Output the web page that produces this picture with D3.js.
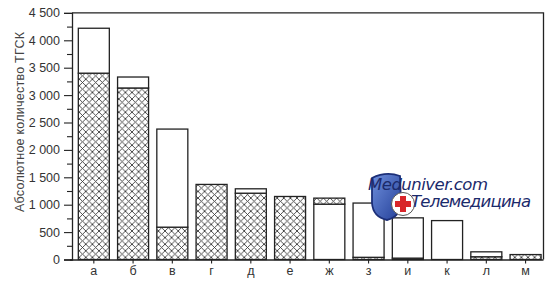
<!DOCTYPE html>
<html>
<head>
<meta charset="utf-8">
<script src="https://cdn.jsdelivr.net/npm/d3@7"></script>
<style>
    body { margin: 0; background: #fff; }
    svg { display: block; font-family: "Liberation Sans", Arial, sans-serif; }
</style>
</head>
<body>
<div class="svg-container"></div>
<script>
// Values.
const categories = ["а", "б", "в", "г", "д", "е", "ж", "з", "и", "к", "л", "м"];
const hatchedLow = [3400, 3130, 590, 1370, 1210, 1150, 0, 40, 25, 0, 50, 90];
const whitePart = [820, 200, 1790, 0, 80, 0, 1010, 990, 735, 710, 90, 0];
const hatchedHigh = [0, 0, 0, 0, 0, 0, 110, 0, 0, 0, 0, 0];
const yMajorTicks = [0, 500, 1000, 1500, 2000, 2500, 3000, 3500, 4000, 4500];
const yMinorTicks = [250, 750, 1250, 1750, 2250, 2750, 3250, 3750, 4250];
const yTitle = "Абсолютное количество ТГСК";

const WIDTH = 550;
const HEIGHT = 284;
const FRAME = { left: 72, right: 543.5, top: 12.9, bottom: 259.5 };
const INK = "#222";
const HATCH = 6.6;

const rows = categories.map((c, i) => ({
    cat: c,
    hatchLow: hatchedLow[i],
    white: whitePart[i],
    hatchHigh: hatchedHigh[i],
}));

const x = d3
    .scaleBand()
    .domain(categories)
    .range([74.2, 545.2])
    .paddingInner(0.21)
    .paddingOuter(0.105);

const y = d3.scaleLinear().domain([0, 4500]).range([FRAME.bottom, FRAME.top]);

const svg = d3
    .select(".svg-container")
    .append("svg")
    .attr("width", WIDTH)
    .attr("height", HEIGHT);

// Cross-hatch fill.
const pattern = svg
    .append("defs")
    .append("pattern")
    .attr("id", "cross")
    .attr("patternUnits", "userSpaceOnUse")
    .attr("width", HATCH)
    .attr("height", HATCH);
pattern.append("rect").attr("width", HATCH).attr("height", HATCH).attr("fill", "#fff");
pattern
    .append("path")
    .attr(
        "d",
        `M0,0L${HATCH},${HATCH}M${HATCH},0L0,${HATCH}` +
            `M-1,${HATCH - 1}L1,${HATCH + 1}M${HATCH - 1},-1L${HATCH + 1},1` +
            `M-1,1L1,-1M${HATCH - 1},${HATCH + 1}L${HATCH + 1},${HATCH - 1}`
    )
    .attr("stroke", "#3a3a3a")
    .attr("stroke-width", 0.9);

// Stacked bars.
const stack = d3.stack().keys(["hatchLow", "white", "hatchHigh"]);
const series = stack(rows);

svg.append("g")
    .classed("bars", true)
    .selectAll("g")
    .data(series)
    .join("g")
    .attr("fill", (s) => (s.key === "white" ? "#fff" : "url(#cross)"))
    .selectAll("rect")
    .data((s) => s.filter((d) => d[1] - d[0] > 0))
    .join("rect")
    .attr("x", (d) => x(d.data.cat))
    .attr("width", x.bandwidth())
    .attr("y", (d) => y(d[1]))
    .attr("height", (d) => y(d[0]) - y(d[1]))
    .attr("stroke", INK)
    .attr("stroke-width", 1.3);

// Frame lines (top and right).
svg.append("path")
    .attr("d", `M${FRAME.left},${FRAME.top}H${FRAME.right}V${FRAME.bottom}`)
    .attr("fill", "none")
    .attr("stroke", INK)
    .attr("stroke-width", 1.3);

// Y axis: major ticks with labels, minor ticks between.
const fmt = (d) => d3.format(",")(d).replace(",", " ");
const yAxis = svg
    .append("g")
    .attr("transform", `translate(${FRAME.left},0)`)
    .call(
        d3.axisLeft(y).tickValues(yMajorTicks).tickSize(8).tickPadding(4).tickFormat(fmt)
    );
yAxis.select(".domain").attr("stroke", INK).attr("stroke-width", 1.3);
yAxis.selectAll(".tick line").attr("stroke", INK).attr("stroke-width", 1.1);
yAxis
    .selectAll(".tick text")
    .attr("font-size", 12.5)
    .attr("fill", "#333")
    .attr("font-family", "Liberation Sans, Arial, sans-serif");

svg.append("g")
    .attr("transform", `translate(${FRAME.left},0)`)
    .call(d3.axisLeft(y).tickValues(yMinorTicks).tickSize(5).tickFormat(""))
    .call((g) => g.select(".domain").remove())
    .selectAll(".tick line")
    .attr("stroke", INK)
    .attr("stroke-width", 1.1);

// X axis.
const xAxis = svg
    .append("g")
    .attr("transform", `translate(0,${FRAME.bottom})`)
    .call(d3.axisBottom(x).tickSize(4).tickPadding(2.5).tickSizeOuter(0));
xAxis
    .select(".domain")
    .attr("d", `M${FRAME.left - 2},0.5H${FRAME.right}`)
    .attr("stroke", INK)
    .attr("stroke-width", 1.3);
xAxis.selectAll(".tick line").attr("stroke", INK).attr("stroke-width", 1.1);
xAxis
    .selectAll(".tick text")
    .attr("font-size", 12.5)
    .attr("fill", "#333")
    .attr("font-family", "Liberation Sans, Arial, sans-serif");

// Y title.
svg.append("text")
    .attr("transform", "translate(24,122) rotate(-90)")
    .attr("text-anchor", "middle")
    .attr("font-size", 12.5)
    .attr("textLength", 180)
    .attr("fill", "#444")
    .text(yTitle);

// Watermark.
const mark = svg.append("g").classed("watermark", true);
const grad = svg
    .select("defs")
    .append("linearGradient")
    .attr("id", "shield")
    .attr("x1", 0)
    .attr("y1", 0)
    .attr("x2", 1)
    .attr("y2", 1);
grad.append("stop").attr("offset", 0).attr("stop-color", "#6f8fdc");
grad.append("stop").attr("offset", 1).attr("stop-color", "#233f98");
mark.append("path")
    .attr("d", "M372,178 Q386,171 400,176 L401,203 Q400,217 387,220 Q373,217 372,203 Z")
    .attr("fill", "url(#shield)")
    .attr("stroke", "#1c2f78")
    .attr("stroke-width", 1.8);
mark.append("text")
    .attr("x", 368)
    .attr("y", 190)
    .attr("font-family", "DejaVu Sans, sans-serif")
    .attr("font-style", "italic")
    .attr("font-size", 16.5)
    .attr("textLength", 120)
    .attr("fill", "#1b2a6b")
    .text("Meduniver.com");
mark.append("circle")
    .attr("cx", 403)
    .attr("cy", 204)
    .attr("r", 11.5)
    .attr("fill", "#fff")
    .attr("stroke", "#555")
    .attr("stroke-width", 1);
mark.append("path")
    .attr("d", "M400,196h6v5h5v6h-5v5h-6v-5h-5v-6h5z")
    .attr("fill", "#d8262a");
mark.append("text")
    .attr("x", 411)
    .attr("y", 207)
    .attr("font-family", "DejaVu Sans, sans-serif")
    .attr("font-style", "italic")
    .attr("font-size", 16.5)
    .attr("textLength", 120)
    .attr("fill", "#1b2a6b")
    .text("Телемедицина");
</script>
</body>
</html>
